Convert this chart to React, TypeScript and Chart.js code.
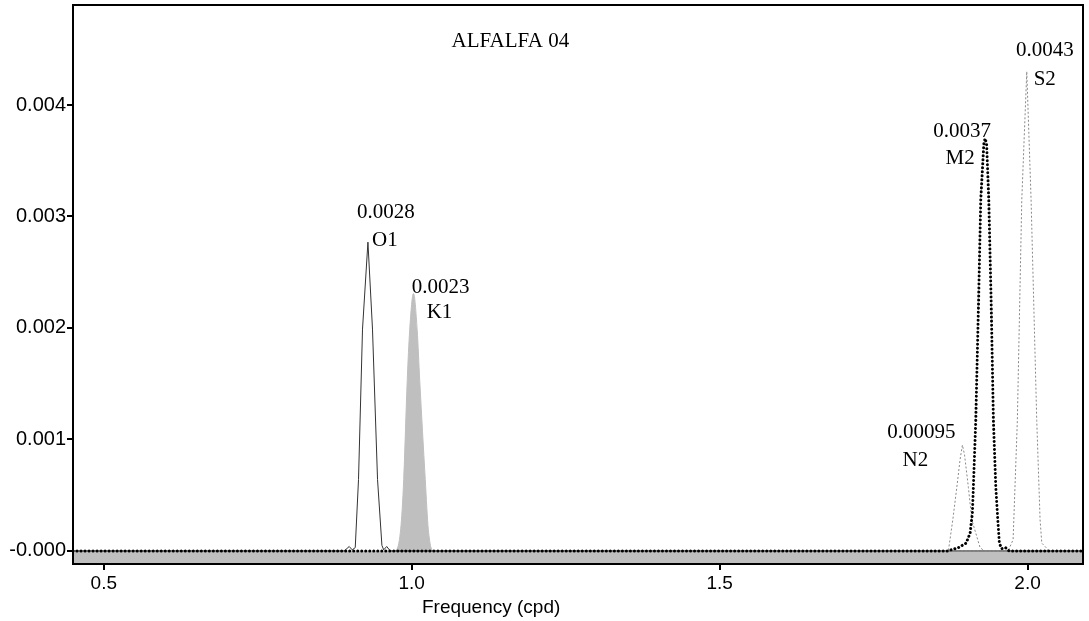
import React, { useEffect, useRef } from "react";
import { Chart, registerables } from "chart.js";

Chart.register(...registerables);

// ---- data (frequency in cpd, amplitude) ----
const o1Freq = [0.45, 0.8904, 0.8985, 0.9034, 0.9083, 0.9136, 0.9201, 0.9289, 0.9363, 0.9445, 0.9516, 0.9545, 0.9594, 0.9651, 2.09];
const o1Amp = [0, 0, 0.00004, 0.00001, 0.00003, 0.00064, 0.00199, 0.00277, 0.00199, 0.00064, 0.00005, 0.00001, 0.00004, 0, 0];

const k1Freq = [0.45, 0.972, 0.982, 0.987, 0.9927, 0.9967, 1.0029, 1.0089, 1.013, 1.022, 1.027, 1.035, 2.09];
const k1Amp = [0, 0, 0.00019, 0.00064, 0.00153, 0.00198, 0.00231, 0.00198, 0.00153, 0.00064, 0.00019, 0, 0];

const n2Freq = [0.45, 1.8714, 1.8786, 1.8851, 1.8904, 1.8942, 1.8977, 1.9039, 1.9094, 1.9229, 1.93, 2.09];
const n2Amp = [0, 0, 0.00028, 0.00057, 0.00082, 0.00095, 0.00086, 0.00057, 0.00028, 0.00003, 0, 0];

const m2Freq = [0.45, 1.87, 1.8877, 1.9002, 1.9067, 1.9104, 1.912, 1.9159, 1.9205, 1.924, 1.929, 1.931, 1.9335, 1.937, 1.9408, 1.9445, 1.9484, 1.9516, 1.9542, 1.9581, 1.964, 1.97, 2.09];
const m2Amp = [0, 0, 0.00003, 0.00007, 0.00016, 0.00034, 0.00057, 0.00117, 0.00225, 0.00315, 0.00365, 0.0037, 0.00365, 0.00315, 0.00225, 0.00117, 0.00057, 0.00028, 0.00007, 0.00002, 0.00003, 0, 0];

const s2Freq = [0.45, 1.9683, 1.9716, 1.9765, 1.9834, 1.9906, 1.9987, 2.0057, 2.0149, 2.0203, 2.0231, 2.0284, 2.035, 2.09];
const s2Amp = [0, 0, 0.00004, 0.0001, 0.00117, 0.00315, 0.0043, 0.00315, 0.00117, 0.00028, 0.00007, 0.00004, 0, 0];

const constituentNames = ["O1", "K1", "N2", "M2", "S2"];
const amplitudeLabels = ["0.0028", "0.0023", "0.00095", "0.0037", "0.0043"];

const xTicks = [0.5, 1.0, 1.5, 2.0];
const xTickLabels = ["0.5", "1.0", "1.5", "2.0"];
const yTicks = [0, 0.001, 0.002, 0.003, 0.004];
const yTickLabels = ["-0.000", "0.001", "0.002", "0.003", "0.004"];

const chartTitle = "ALFALFA 04";
const xAxisTitle = "Frequency (cpd)";

// ---- label placement (pixel offsets from each peak) ----
const labelOffsets = [
  { vx: 18, vy: -30, nx: 17, ny: -2 },
  { vx: 27, vy: -6, nx: 26, ny: 19 },
  { vx: -41, vy: -13, nx: -47, ny: 15 },
  { vx: -23, vy: -7, nx: -25, ny: 20 },
  { vx: 18, vy: -21, nx: 18, ny: 8 },
];

const toPoints = (xs: number[], ys: number[]) => xs.map((x, i) => ({ x, y: ys[i] }));

const serif = '"Liberation Serif", "Times New Roman", serif';
const sans = '"Liberation Sans", Arial, sans-serif';

const overlayPlugin = {
  id: "overlay",
  afterDatasetsDraw(chart: any) {
    const { ctx, chartArea, scales } = chart;
    const xs = scales.x;
    const ys = scales.y;
    ctx.save();
    ctx.fillStyle = "#000";
    ctx.font = `21px ${serif}`;
    ctx.textAlign = "center";
    ctx.textBaseline = "middle";
    const series = [
      [o1Freq, o1Amp],
      [k1Freq, k1Amp],
      [n2Freq, n2Amp],
      [m2Freq, m2Amp],
      [s2Freq, s2Amp],
    ];
    series.forEach(([f, a], i) => {
      let mi = 0;
      a.forEach((v, j) => {
        if (v > a[mi]) mi = j;
      });
      const px = xs.getPixelForValue(f[mi]);
      const py = ys.getPixelForValue(a[mi]);
      const o = labelOffsets[i];
      ctx.fillText(amplitudeLabels[i], px + o.vx, py + o.vy);
      ctx.fillText(constituentNames[i], px + o.nx, py + o.ny);
    });
    // title inside plot
    ctx.fillText(chartTitle, chartArea.left + (chartArea.right - chartArea.left) * 0.433, chartArea.top + 36);
    // x axis title (offset left of centre, as in the original)
    ctx.font = `19px ${sans}`;
    ctx.fillText(xAxisTitle, chartArea.left + (chartArea.right - chartArea.left) * 0.414, chart.height - 13);
    // frame
    ctx.strokeStyle = "#000";
    ctx.lineWidth = 2;
    ctx.strokeRect(chartArea.left, chartArea.top, chartArea.right - chartArea.left, chartArea.bottom - chartArea.top);
    ctx.restore();
  },
};

export default function App() {
  const ref = useRef<HTMLCanvasElement | null>(null);

  useEffect(() => {
    document.body.style.margin = "0";
    const canvas = ref.current;
    if (!canvas) return;
    const chart = new Chart(canvas, {
      type: "line",
      data: {
        datasets: [
          {
            label: "M2",
            data: toPoints(m2Freq, m2Amp),
            borderColor: "#000",
            borderWidth: 3,
            borderDash: [0.01, 4],
            borderCapStyle: "round",
            pointRadius: 0,
            fill: false,
            tension: 0,
            order: 1,
          },
          {
            label: "S2",
            data: toPoints(s2Freq, s2Amp),
            borderColor: "#888",
            borderWidth: 1,
            borderDash: [2, 2],
            pointRadius: 0,
            fill: false,
            tension: 0,
            order: 2,
          },
          {
            label: "N2",
            data: toPoints(n2Freq, n2Amp),
            borderColor: "#888",
            borderWidth: 1,
            borderDash: [2, 2],
            pointRadius: 0,
            fill: false,
            tension: 0,
            order: 3,
          },
          {
            label: "O1",
            data: toPoints(o1Freq, o1Amp),
            borderColor: "#333",
            borderWidth: 1,
            pointRadius: 0,
            fill: false,
            tension: 0,
            order: 4,
          },
          {
            label: "K1",
            data: toPoints(k1Freq, k1Amp),
            borderColor: "#bfbfbf",
            borderWidth: 1,
            backgroundColor: "#bfbfbf",
            pointRadius: 0,
            fill: "start",
            cubicInterpolationMode: "monotone",
            order: 5,
          },
        ],
      },
      options: {
        animation: false,
        responsive: false,
        maintainAspectRatio: false,
        layout: { padding: { top: 5, right: 6, left: 0, bottom: 0 } },
        plugins: {
          legend: { display: false },
          tooltip: { enabled: false },
          title: { display: false },
        },
        scales: {
          x: {
            type: "linear",
            min: 0.45,
            max: 2.09,
            afterBuildTicks: (s: any) => {
              s.ticks = xTicks.map((v) => ({ value: v }));
            },
            afterFit: (s: any) => {
              s.height = 57;
              s.paddingLeft = 0;
              s.paddingRight = 0;
            },
            ticks: {
              color: "#000",
              font: { family: sans, size: 19 },
              padding: 2,
              maxRotation: 0,
              autoSkip: false,
              callback: (v: any) => {
                const i = xTicks.indexOf(Number(v));
                return i >= 0 ? xTickLabels[i] : "";
              },
            },
            grid: {
              drawOnChartArea: false,
              drawTicks: true,
              tickLength: 6,
              color: "#000",
              lineWidth: 2,
            },
            border: { display: false },
            title: { display: false },
          },
          y: {
            type: "linear",
            min: -0.000117,
            max: 0.004897,
            afterBuildTicks: (s: any) => {
              s.ticks = yTicks.map((v) => ({ value: v }));
            },
            afterFit: (s: any) => {
              s.width = 73;
              s.paddingTop = 0;
              s.paddingBottom = 0;
            },
            ticks: {
              color: "#000",
              font: { family: sans, size: 20 },
              padding: 1,
              autoSkip: false,
              callback: (v: any) => {
                const i = yTicks.findIndex((t) => Math.abs(t - Number(v)) < 1e-9);
                return i >= 0 ? yTickLabels[i] : "";
              },
            },
            grid: {
              drawOnChartArea: false,
              drawTicks: true,
              tickLength: 6,
              color: "#000",
              lineWidth: 2,
            },
            border: { display: false },
          },
        },
      },
      plugins: [overlayPlugin],
    } as any);
    return () => chart.destroy();
  }, []);

  return (
    <div style={{ position: "fixed", left: 0, top: 0, width: 1089, height: 621, background: "#fff" }}>
      <canvas ref={ref} width={1089} height={621} style={{ width: 1089, height: 621, display: "block" }} />
    </div>
  );
}
